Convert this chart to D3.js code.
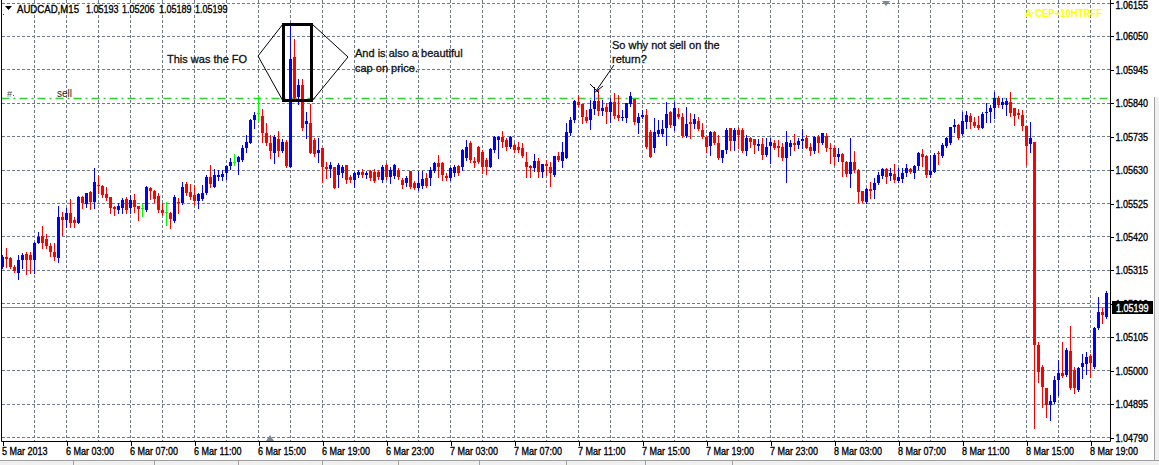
<!DOCTYPE html>
<html><head><meta charset="utf-8">
<script src="https://cdn.jsdelivr.net/npm/d3@7"></script>
<style>html,body{margin:0;padding:0;background:#fff;overflow:hidden}</style>
</head><body><div id="chart"></div>
<script>
// ---------- DATA (AUDCAD M15) ----------
const open=[
1.05326,1.05357,1.05354,1.05326,1.05307,1.05348,1.05366,1.05363,1.05348,1.05401,
1.05423,1.05414,1.05392,1.05373,1.05354,1.05483,1.05473,1.05495,1.05473,1.05464,
1.05545,1.05523,1.05561,1.05530,1.05583,1.05580,1.05555,1.05545,1.05514,1.05505,
1.05511,1.05539,1.05511,1.05536,1.05517,1.05511,1.05505,1.05574,1.05564,1.05549,
1.05505,1.05498,1.05495,1.05470,1.05530,1.05527,1.05586,1.05561,1.05552,1.05533,
1.05539,1.05558,1.05608,1.05577,1.05608,1.05608,1.05621,1.05643,1.05655,1.05655,
1.05662,1.05699,1.05715,1.05787,1.05809,1.05800,1.05746,1.05715,1.05684,1.05728,
1.05690,1.05718,1.05640,1.05985,1.05859,1.05897,1.05775,1.05778,1.05724,1.05684,
1.05699,1.05640,1.05633,1.05640,1.05615,1.05621,1.05646,1.05608,1.05599,1.05615,
1.05624,1.05615,1.05627,1.05624,1.05624,1.05599,1.05646,1.05608,1.05611,1.05630,
1.05599,1.05589,1.05627,1.05589,1.05574,1.05580,1.05605,1.05605,1.05627,1.05652,
1.05652,1.05611,1.05605,1.05621,1.05643,1.05640,1.05668,1.05715,1.05658,1.05702,
1.05687,1.05662,1.05640,1.05693,1.05724,1.05734,1.05724,1.05702,1.05709,1.05702,
1.05699,1.05655,1.05643,1.05636,1.05658,1.05624,1.05649,1.05640,1.05615,1.05674,
1.05658,1.05668,1.05746,1.05787,1.05844,1.05837,1.05797,1.05787,1.05822,1.05847,
1.05815,1.05828,1.05812,1.05844,1.05803,1.05793,1.05793,1.05837,1.05853,1.05778,
1.05797,1.05803,1.05750,1.05699,1.05743,1.05743,1.05762,1.05812,1.05768,1.05806,
1.05797,1.05737,1.05781,1.05775,1.05784,1.05756,1.05734,1.05706,1.05750,1.05715,
1.05668,1.05693,1.05762,1.05721,1.05756,1.05756,1.05690,1.05731,1.05728,1.05706,
1.05712,1.05677,1.05706,1.05715,1.05706,1.05702,1.05668,1.05702,1.05715,1.05709,
1.05721,1.05731,1.05702,1.05690,1.05734,1.05715,1.05737,1.05699,1.05699,1.05671,
1.05680,1.05655,1.05618,1.05655,1.05630,1.05564,1.05530,1.05571,1.05567,1.05589,
1.05611,1.05633,1.05611,1.05618,1.05596,1.05602,1.05621,1.05633,1.05621,1.05643,
1.05680,1.05674,1.05615,1.05624,1.05684,1.05674,1.05706,1.05715,1.05765,1.05771,
1.05743,1.05781,1.05800,1.05781,1.05771,1.05762,1.05809,1.05812,1.05825,1.05856,
1.05834,1.05834,1.05844,1.05825,1.05809,1.05803,1.05768,1.05712,1.05718,1.05081,
1.05012,1.04946,1.04892,1.04902,1.04971,1.04993,1.04987,1.05062,1.05002,1.04939,
1.05012,1.05021,1.05046,1.05012,1.05134,1.05184,1.05169];
const high=[
1.05363,1.05385,1.05357,1.05332,1.05363,1.05370,1.05373,1.05373,1.05404,1.05436,
1.05454,1.05429,1.05401,1.05401,1.05517,1.05498,1.05511,1.05539,1.05483,1.05549,
1.05549,1.05558,1.05564,1.05636,1.05615,1.05583,1.05577,1.05545,1.05517,1.05527,
1.05542,1.05545,1.05552,1.05555,1.05517,1.05523,1.05580,1.05577,1.05567,1.05558,
1.05527,1.05530,1.05498,1.05552,1.05542,1.05593,1.05593,1.05586,1.05583,1.05558,
1.05583,1.05615,1.05646,1.05633,1.05630,1.05630,1.05646,1.05668,1.05680,1.05674,
1.05709,1.05740,1.05790,1.05812,1.05863,1.05822,1.05778,1.05740,1.05740,1.05753,
1.05728,1.05724,1.06086,1.06042,1.05916,1.05916,1.05812,1.05837,1.05731,1.05731,
1.05699,1.05655,1.05655,1.05640,1.05652,1.05646,1.05646,1.05615,1.05624,1.05630,
1.05633,1.05627,1.05630,1.05633,1.05630,1.05646,1.05652,1.05640,1.05649,1.05636,
1.05605,1.05611,1.05627,1.05596,1.05627,1.05627,1.05621,1.05640,1.05655,1.05677,
1.05655,1.05621,1.05640,1.05646,1.05646,1.05696,1.05724,1.05721,1.05671,1.05706,
1.05693,1.05668,1.05699,1.05737,1.05737,1.05753,1.05731,1.05737,1.05715,1.05718,
1.05715,1.05687,1.05646,1.05680,1.05668,1.05649,1.05662,1.05655,1.05674,1.05687,
1.05718,1.05778,1.05797,1.05850,1.05866,1.05837,1.05819,1.05850,1.05891,1.05881,
1.05850,1.05841,1.05856,1.05872,1.05866,1.05819,1.05841,1.05875,1.05853,1.05809,
1.05819,1.05822,1.05756,1.05793,1.05787,1.05787,1.05844,1.05815,1.05844,1.05825,
1.05809,1.05828,1.05809,1.05806,1.05797,1.05778,1.05740,1.05753,1.05753,1.05740,
1.05693,1.05762,1.05762,1.05762,1.05765,1.05762,1.05740,1.05734,1.05728,1.05728,
1.05731,1.05731,1.05731,1.05724,1.05724,1.05715,1.05753,1.05724,1.05743,1.05731,
1.05759,1.05740,1.05715,1.05737,1.05740,1.05746,1.05746,1.05715,1.05709,1.05699,
1.05684,1.05658,1.05731,1.05690,1.05633,1.05564,1.05574,1.05593,1.05605,1.05624,
1.05636,1.05636,1.05636,1.05649,1.05636,1.05636,1.05649,1.05636,1.05646,1.05687,
1.05696,1.05677,1.05677,1.05684,1.05690,1.05715,1.05734,1.05765,1.05790,1.05775,
1.05812,1.05815,1.05809,1.05797,1.05800,1.05812,1.05841,1.05834,1.05875,1.05863,
1.05856,1.05856,1.05875,1.05825,1.05822,1.05819,1.05768,1.05781,1.05718,1.05090,
1.05018,1.04946,1.04924,1.04983,1.05034,1.05090,1.05071,1.05140,1.05012,1.05012,
1.05052,1.05059,1.05052,1.05137,1.05231,1.05197,1.05250];
const low=[
1.05322,1.05326,1.05322,1.05310,1.05288,1.05322,1.05304,1.05307,1.05307,1.05401,
1.05385,1.05385,1.05360,1.05348,1.05341,1.05426,1.05451,1.05451,1.05451,1.05464,
1.05511,1.05514,1.05508,1.05511,1.05558,1.05545,1.05536,1.05495,1.05489,1.05495,
1.05495,1.05495,1.05495,1.05498,1.05473,1.05486,1.05501,1.05539,1.05530,1.05498,
1.05489,1.05458,1.05448,1.05467,1.05495,1.05523,1.05552,1.05539,1.05520,1.05511,
1.05536,1.05555,1.05577,1.05577,1.05599,1.05599,1.05602,1.05633,1.05646,1.05618,
1.05658,1.05687,1.05715,1.05762,1.05787,1.05718,1.05709,1.05668,1.05652,1.05674,
1.05687,1.05640,1.05640,1.05856,1.05837,1.05756,1.05731,1.05684,1.05674,1.05655,
1.05593,1.05605,1.05608,1.05574,1.05577,1.05608,1.05589,1.05593,1.05577,1.05608,
1.05608,1.05605,1.05599,1.05593,1.05602,1.05593,1.05602,1.05589,1.05605,1.05602,
1.05574,1.05580,1.05574,1.05571,1.05567,1.05574,1.05577,1.05583,1.05624,1.05608,
1.05599,1.05599,1.05599,1.05611,1.05615,1.05630,1.05662,1.05655,1.05640,1.05652,
1.05621,1.05618,1.05640,1.05687,1.05668,1.05702,1.05693,1.05699,1.05687,1.05687,
1.05671,1.05608,1.05608,1.05627,1.05608,1.05608,1.05615,1.05580,1.05611,1.05658,
1.05640,1.05668,1.05740,1.05781,1.05831,1.05778,1.05781,1.05759,1.05806,1.05803,
1.05803,1.05778,1.05781,1.05793,1.05787,1.05787,1.05781,1.05831,1.05775,1.05746,
1.05793,1.05699,1.05671,1.05687,1.05737,1.05737,1.05709,1.05765,1.05756,1.05793,
1.05734,1.05734,1.05731,1.05762,1.05756,1.05731,1.05687,1.05677,1.05712,1.05665,
1.05655,1.05684,1.05693,1.05693,1.05699,1.05687,1.05677,1.05702,1.05684,1.05693,
1.05665,1.05674,1.05652,1.05696,1.05674,1.05662,1.05593,1.05677,1.05693,1.05699,
1.05699,1.05699,1.05677,1.05684,1.05687,1.05712,1.05690,1.05652,1.05646,1.05658,
1.05611,1.05611,1.05577,1.05624,1.05530,1.05530,1.05527,1.05542,1.05542,1.05586,
1.05605,1.05589,1.05599,1.05593,1.05593,1.05593,1.05611,1.05621,1.05605,1.05633,
1.05643,1.05608,1.05608,1.05624,1.05649,1.05671,1.05702,1.05712,1.05750,1.05728,
1.05740,1.05762,1.05762,1.05765,1.05759,1.05762,1.05781,1.05781,1.05793,1.05828,
1.05825,1.05803,1.05800,1.05771,1.05793,1.05756,1.05649,1.05687,1.04820,1.04965,
1.04886,1.04855,1.04845,1.04899,1.04924,1.04980,1.04983,1.04943,1.04930,1.04936,
1.04977,1.04990,1.04980,1.05008,1.05131,1.05150,1.05165];
const close=[
1.05357,1.05351,1.05326,1.05313,1.05348,1.05363,1.05348,1.05348,1.05401,1.05420,
1.05401,1.05392,1.05373,1.05357,1.05483,1.05473,1.05495,1.05464,1.05464,1.05545,
1.05527,1.05558,1.05530,1.05593,1.05580,1.05552,1.05542,1.05511,1.05508,1.05517,
1.05536,1.05505,1.05536,1.05514,1.05508,1.05511,1.05577,1.05564,1.05539,1.05505,
1.05495,1.05498,1.05476,1.05545,1.05527,1.05577,1.05558,1.05545,1.05533,1.05555,
1.05558,1.05608,1.05586,1.05615,1.05615,1.05618,1.05643,1.05655,1.05655,1.05671,
1.05699,1.05718,1.05787,1.05803,1.05809,1.05746,1.05715,1.05690,1.05734,1.05690,
1.05718,1.05643,1.05979,1.05856,1.05897,1.05762,1.05784,1.05684,1.05680,1.05693,
1.05640,1.05633,1.05646,1.05574,1.05646,1.05640,1.05599,1.05599,1.05621,1.05624,
1.05615,1.05621,1.05605,1.05596,1.05608,1.05640,1.05608,1.05630,1.05646,1.05608,
1.05583,1.05605,1.05577,1.05574,1.05589,1.05602,1.05580,1.05630,1.05652,1.05640,
1.05615,1.05605,1.05636,1.05640,1.05621,1.05693,1.05702,1.05662,1.05652,1.05655,
1.05640,1.05640,1.05696,1.05734,1.05734,1.05718,1.05702,1.05734,1.05693,1.05693,
1.05674,1.05640,1.05636,1.05658,1.05624,1.05649,1.05643,1.05621,1.05674,1.05662,
1.05687,1.05750,1.05787,1.05847,1.05834,1.05797,1.05784,1.05822,1.05847,1.05815,
1.05825,1.05812,1.05844,1.05800,1.05793,1.05797,1.05841,1.05863,1.05781,1.05797,
1.05803,1.05702,1.05671,1.05750,1.05756,1.05759,1.05806,1.05771,1.05825,1.05797,
1.05737,1.05775,1.05775,1.05790,1.05759,1.05734,1.05702,1.05750,1.05715,1.05668,
1.05693,1.05756,1.05721,1.05756,1.05740,1.05690,1.05731,1.05718,1.05709,1.05712,
1.05677,1.05702,1.05718,1.05699,1.05699,1.05668,1.05718,1.05715,1.05709,1.05721,
1.05728,1.05699,1.05690,1.05734,1.05715,1.05746,1.05699,1.05696,1.05671,1.05680,
1.05655,1.05618,1.05655,1.05630,1.05561,1.05533,1.05571,1.05564,1.05589,1.05615,
1.05633,1.05608,1.05621,1.05599,1.05608,1.05621,1.05636,1.05624,1.05643,1.05684,
1.05671,1.05615,1.05627,1.05677,1.05680,1.05709,1.05731,1.05765,1.05771,1.05731,
1.05784,1.05803,1.05781,1.05768,1.05762,1.05806,1.05812,1.05825,1.05856,1.05834,
1.05844,1.05847,1.05809,1.05800,1.05803,1.05768,1.05706,1.05731,1.05081,1.04996,
1.04949,1.04892,1.04905,1.04971,1.04993,1.04983,1.05065,1.04946,1.04946,1.05008,
1.05024,1.05043,1.05024,1.05134,1.05184,1.05175,1.05244];
const priceTicks=[1.04790,1.04895,1.05000,1.05105,1.05210,1.05315,1.05420,1.05525,1.05630,1.05735,1.05840,1.05945,1.06050,1.06155];
const dateLabels=["5 Mar 2013","6 Mar 03:00","6 Mar 07:00","6 Mar 11:00","6 Mar 15:00","6 Mar 19:00","6 Mar 23:00","7 Mar 03:00","7 Mar 07:00","7 Mar 11:00","7 Mar 15:00","7 Mar 19:00","7 Mar 23:00","8 Mar 03:00","8 Mar 07:00","8 Mar 11:00","8 Mar 15:00","8 Mar 19:00"];
const barsPerLabel=16, barsPerGrid=8;
const symbolText="AUDCAD,M15";
const lastQuote=["1.05193","1.05206","1.05189","1.05199"];
const bidPrice=1.05199;
const sellLevel=1.05855;
const indicatorText="A\u00b7CEP+10HTRFF";

// ---------- DRAWING ----------
const W=1159,H=465;
const SANS="'Liberation Sans',Arial,sans-serif";
const NARROW_K=0.82; // condensed look of the terminal font
const svg=d3.select("#chart").append("svg").attr("width",W).attr("height",H).style("display","block");
svg.append("rect").attr("width",W).attr("height",H).attr("fill","#fff");
function narrow(sel){
  sel.attr("font-family",SANS).attr("font-size",11).each(function(){
    const w=this.getComputedTextLength();
    const t=d3.select(this);
    t.attr("textLength",(w*NARROW_K).toFixed(1)).attr("lengthAdjust","spacingAndGlyphs")
     .attr("stroke",t.attr("fill")||"#000").attr("stroke-width",0.35);
  });
}

const n=Math.min(open.length,high.length,low.length,close.length);
const left=1.5,right=1110.5,bottom=441.5;
const x=d3.scaleLinear().domain([0,276]).range([2.5,1106.5]);
const y=d3.scaleLinear().domain([1.04790,1.06155]).range([437.5,3]);
const crisp=v=>Math.round(v-0.5)+0.5;
const gridColor="#6f7b89";

// grid
const grid=svg.append("g").attr("shape-rendering","crispEdges");
grid.selectAll("line.h").data(priceTicks).join("line").attr("class","h")
  .attr("x1",left).attr("x2",right).attr("y1",d=>crisp(y(d))).attr("y2",d=>crisp(y(d)))
  .attr("stroke",gridColor).attr("stroke-dasharray","3,2");
grid.selectAll("line.v").data(d3.range(barsPerGrid,n,barsPerGrid)).join("line").attr("class","v")
  .attr("x1",d=>x(d)).attr("x2",d=>x(d)).attr("y1",0).attr("y2",bottom)
  .attr("stroke",gridColor).attr("stroke-dasharray","3,2");

// sell level (green dash-dot)
svg.append("line").attr("x1",left).attr("x2",right).attr("y1",y(sellLevel)).attr("y2",y(sellLevel))
  .attr("stroke","#32cd32").attr("stroke-width",1.4).attr("stroke-dasharray","8,4,2,4");
// bid line
svg.append("line").attr("x1",left).attr("x2",right).attr("y1",crisp(y(bidPrice))).attr("y2",crisp(y(bidPrice)))
  .attr("stroke","#778899").attr("stroke-width",1).attr("shape-rendering","crispEdges");

// candles
const bars=d3.range(n).map(i=>({i,o:open[i],h:high[i],l:low[i],c:close[i]}));
const col=d=>d.c>d.o?"#0000ff":(d.c<d.o?"#ff0000":"#00ff00");
const cg=svg.append("g").attr("shape-rendering","crispEdges");
cg.selectAll("line.wick").data(bars).join("line").attr("class","wick")
  .attr("x1",d=>x(d.i)).attr("x2",d=>x(d.i))
  .attr("y1",d=>Math.round(y(d.h))).attr("y2",d=>Math.round(y(d.l))+1)
  .attr("stroke",col);
cg.selectAll("rect.body").data(bars).join("rect").attr("class","body")
  .attr("x",d=>x(d.i)-1.5).attr("width",3)
  .attr("y",d=>Math.round(y(Math.max(d.o,d.c))))
  .attr("height",d=>Math.max(1,Math.round(y(Math.min(d.o,d.c)))-Math.round(y(Math.max(d.o,d.c)))))
  .attr("fill",col);

// frame
svg.append("line").attr("x1",left).attr("x2",left).attr("y1",0).attr("y2",bottom).attr("stroke","#000");
svg.append("line").attr("x1",right).attr("x2",right).attr("y1",0).attr("y2",bottom).attr("stroke","#000");
svg.append("line").attr("x1",left).attr("x2",right).attr("y1",bottom).attr("y2",bottom).attr("stroke","#000");

// price axis
const yAxis=d3.axisRight(y).tickValues(priceTicks).tickFormat(d3.format(".5f")).tickSize(3).tickPadding(3);
const ya=svg.append("g").attr("transform",`translate(${right},0)`).call(yAxis);
ya.select(".domain").remove();
ya.selectAll(".tick line").attr("stroke","#000").attr("shape-rendering","crispEdges");
ya.selectAll(".tick text").attr("fill","#000").attr("x",5).call(narrow);
ya.selectAll(".tick text").filter(d=>d===priceTicks[priceTicks.length-1]).attr("dy","0.5em");
// bid label
svg.append("rect").attr("x",1112).attr("y",crisp(y(bidPrice))-6.5).attr("width",41).attr("height",13).attr("fill","#000");
svg.append("text").attr("x",1116).attr("y",crisp(y(bidPrice))+4).attr("fill","#fff")
  .text(d3.format(".5f")(bidPrice)).call(narrow);

// time axis
const xAxis=d3.axisBottom(x).tickValues(dateLabels.map((_,k)=>k*barsPerLabel))
  .tickFormat(d=>dateLabels[d/barsPerLabel]).tickSize(4);
const xa=svg.append("g").attr("transform",`translate(0,${bottom})`).call(xAxis);
xa.select(".domain").remove();
xa.selectAll(".tick line").attr("stroke","#000").attr("shape-rendering","crispEdges");
xa.selectAll(".tick text").attr("fill","#000")
  .attr("text-anchor","start").attr("x",-1).attr("dy",null).attr("y",13).call(narrow);

// window chrome
svg.append("rect").attr("x",0).attr("y",460).attr("width",W).attr("height",5).attr("fill","#f0f0f0");
svg.append("line").attr("x1",0).attr("x2",W).attr("y1",460.5).attr("y2",460.5).attr("stroke","#a0a0a0");
svg.selectAll("line.sep").data([73,154,238,322,398,479,566,645,732]).join("line").attr("class","sep")
  .attr("x1",d=>d+0.5).attr("x2",d=>d+0.5).attr("y1",461).attr("y2",465).attr("stroke","#a0a0a0");
svg.append("rect").attr("x",1155).attr("y",97).attr("width",4).attr("height",363).attr("fill","#f0f0f0");
svg.append("line").attr("x1",1154.5).attr("x2",1154.5).attr("y1",97).attr("y2",460).attr("stroke","#a0a0a0");

// markers
svg.append("path").attr("d","M882,1 L890,1 L886,6 Z").attr("fill","#7b8794");
svg.append("path").attr("d","M266,441 L274,441 L270,435 Z").attr("fill","#7b8794");

// title
svg.append("path").attr("d","M5,6 L12,6 L8.5,10 Z").attr("fill","#000");
svg.append("rect").attr("x",3).attr("y",14).attr("width",1).attr("height",1).attr("fill","#e00");
svg.append("text").attr("x",17).attr("y",13).attr("font-family",SANS).attr("font-size",11)
  .attr("stroke","#000").attr("stroke-width",0.35)
  .attr("textLength",62).attr("lengthAdjust","spacingAndGlyphs").text(symbolText);
[86,122,159,195].forEach((xx,k)=>svg.append("text").attr("x",xx).attr("y",13).attr("fill","#000").text(lastQuote[k]).call(narrow));

// indicator label
svg.append("text").attr("x",1025).attr("y",17).attr("font-family",SANS).attr("font-size",10).attr("font-weight","bold")
  .attr("fill","#ffff00").attr("textLength",77).attr("lengthAdjust","spacingAndGlyphs").text(indicatorText);

// object labels on the sell line
svg.append("text").attr("x",7).attr("y",97).attr("font-family",SANS).attr("font-size",9).attr("fill","#444").text("#");
svg.append("rect").attr("x",13).attr("y",95).attr("width",1).attr("height",1).attr("fill","#c33");
svg.append("text").attr("x",57).attr("y",97).attr("font-family",SANS).attr("font-size",10).attr("fill","#222").text("sell");

// annotations
const ann=svg.append("g").attr("font-family",SANS).attr("font-size",11).attr("fill","#111")
  .attr("stroke","#111").attr("stroke-width",0.3);
ann.append("text").attr("x",167).attr("y",63).text("This was the FO");
ann.append("text").attr("x",355).attr("y",57).text("And is also a beautiful");
ann.append("text").attr("x",355).attr("y",72).text("cap on price.");
ann.append("text").attr("x",612).attr("y",49).text("So why not sell on the");
ann.append("text").attr("x",612).attr("y",63).text("return?");

const lg=svg.append("g").attr("stroke","#000").attr("stroke-width",1).attr("fill","none");
lg.append("path").attr("d","M283,24 L258,56 L283,101");
lg.append("path").attr("d","M312,24 L348,57 L312,101");
lg.append("rect").attr("x",283.5).attr("y",24.5).attr("width",28).attr("height",76).attr("stroke-width",3);
lg.append("path").attr("d","M614,65 L596,91");
lg.append("path").attr("d","M590,84 L599,93 M594,93 L603,86");
</script></body></html>
